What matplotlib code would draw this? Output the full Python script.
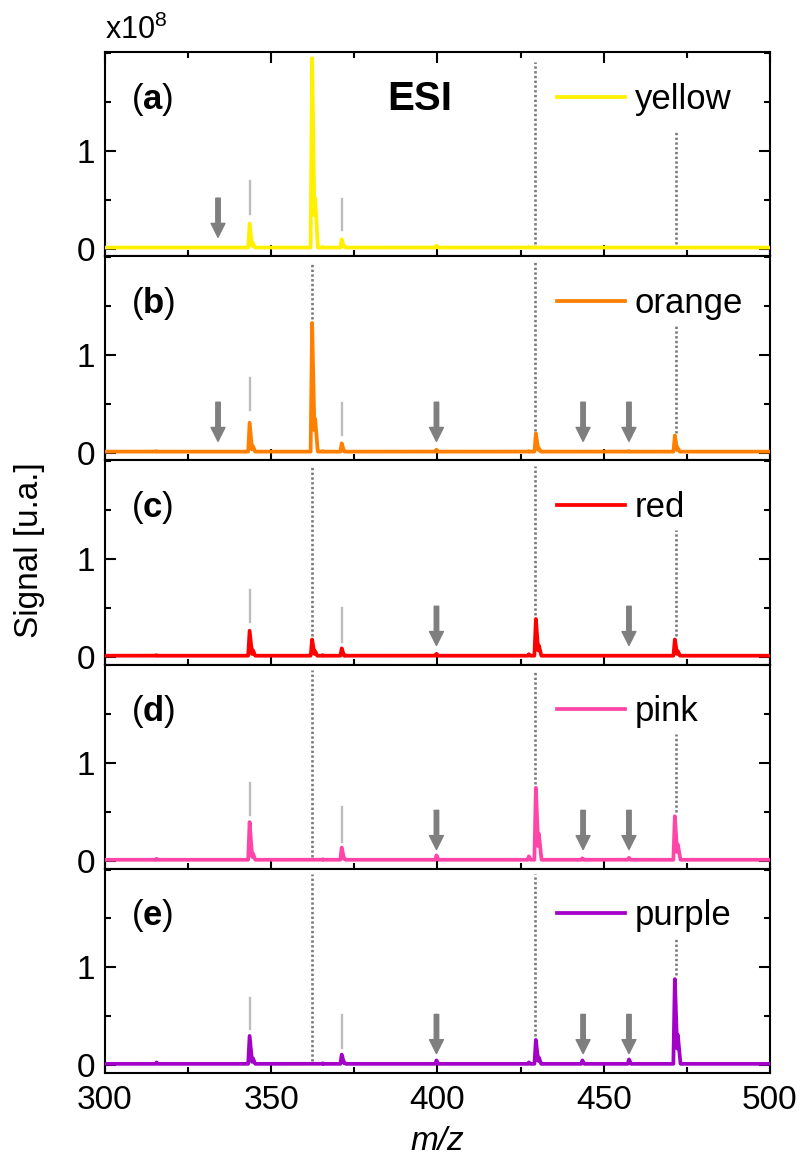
import numpy as np
import matplotlib
matplotlib.use("Agg")
from matplotlib import pyplot as plt
from matplotlib.ticker import MultipleLocator

plt.rcParams["font.family"] = ["Liberation Sans", "DejaVu Sans"]
plt.rcParams["mathtext.fontset"] = "custom"
plt.rcParams["mathtext.rm"] = "Liberation Sans"
plt.rcParams["mathtext.bf"] = "Liberation Sans:bold"
plt.rcParams["mathtext.it"] = "Liberation Sans:italic"

# --- data ---
panel_labels = ["a", "b", "c", "d", "e"]
sample_names = ["yellow", "orange", "red", "pink", "purple"]
sample_colors = ["#FFF000", "#FF8000", "#FF0000", "#FF45A8", "#A300C8"]

# peak positions (m/z) shared by all spectra
peak_mz = [315.5, 324.0, 334.0, 343.5, 344.5, 362.3, 363.2, 365.5, 371.2, 372.0,
           399.7, 402.0, 415.0, 427.5, 429.6, 430.5, 443.6, 457.6, 471.4, 472.3]

# peak heights per sample (x1e8)
peaks_yellow = [0.015, 0.005, 0.01, 0.26, 0.06, 1.95, 0.52, 0.02, 0.10, 0.03,
                0.035, 0.01, 0.005, 0.02, 0.02, 0.0, 0.0, 0.005, 0.005, 0.0]
peaks_orange = [0.02, 0.005, 0.015, 0.31, 0.07, 1.33, 0.35, 0.02, 0.10, 0.02,
                0.035, 0.015, 0.005, 0.02, 0.20, 0.05, 0.015, 0.02, 0.18, 0.05]
peaks_red = [0.02, 0.01, 0.01, 0.27, 0.07, 0.18, 0.06, 0.02, 0.09, 0.02,
             0.035, 0.0, 0.01, 0.03, 0.39, 0.12, 0.01, 0.015, 0.18, 0.06]
peaks_pink = [0.025, 0.01, 0.0, 0.40, 0.08, 0.0, 0.0, 0.02, 0.14, 0.03,
              0.06, 0.0, 0.01, 0.05, 0.75, 0.28, 0.03, 0.035, 0.46, 0.17]
peaks_purple = [0.03, 0.01, 0.0, 0.30, 0.07, 0.0, 0.0, 0.02, 0.11, 0.03,
                0.05, 0.0, 0.01, 0.03, 0.26, 0.08, 0.05, 0.06, 0.88, 0.31]
all_peaks = [peaks_yellow, peaks_orange, peaks_red, peaks_pink, peaks_purple]
baseline = 0.015

# light grey markers above 343.5 and 371.2: (mz, y_low, y_high)
grey_marks = [
    [(343.5, 0.36, 0.69), (371.2, 0.19, 0.51)],
    [(343.5, 0.44, 0.77), (371.2, 0.19, 0.51)],
    [(343.5, 0.36, 0.69), (371.2, 0.16, 0.50)],
    [(343.5, 0.47, 0.80), (371.2, 0.20, 0.55)],
    [(343.5, 0.37, 0.69), (371.2, 0.18, 0.51)],
]
# down arrows
arrow_mz = [
    [334.0],
    [334.0, 399.7, 443.8, 457.6],
    [399.7, 457.6],
    [399.7, 443.8, 457.6],
    [399.7, 443.8, 457.6],
]
# dotted guide lines: (mz, y_low, y_high)
dotted_marks = [
    [(429.4, 0.05, 1.91), (471.9, 0.05, 1.22)],
    [(362.4, 1.37, 1.95), (429.4, 0.23, 1.95), (471.9, 0.21, 1.30)],
    [(362.4, 0.22, 1.95), (429.4, 0.43, 1.95), (471.9, 0.22, 1.30)],
    [(362.4, 0.04, 1.95), (429.4, 0.79, 1.95), (471.9, 0.50, 1.30)],
    [(362.4, 0.04, 1.95), (429.4, 0.30, 1.95), (471.9, 0.92, 1.30)],
]


def spectrum(heights, mz_grid):
    # narrow, slightly tailing peaks on a flat baseline
    y = np.full_like(mz_grid, baseline)
    for c, h in zip(peak_mz, heights):
        if h <= 0:
            continue
        w = np.where(mz_grid < c, 0.45, 0.85)
        tri = h * (1 - np.abs(mz_grid - c) / w)
        y = np.maximum(y, tri)
    return y


mz = np.arange(300, 500.001, 0.05)

fig = plt.figure(figsize=(8.02, 11.57), dpi=100)
axes = fig.subplots(5, 1, sharex=True)
fig.subplots_adjust(left=0.1309, right=0.960, top=0.9548, bottom=0.0729, hspace=0)

for i, ax in enumerate(axes):
    ax.plot(mz, spectrum(all_peaks[i], mz), color=sample_colors[i], lw=2.7,
            label=sample_names[i], zorder=3)

    for x, y0, y1 in grey_marks[i]:
        ax.plot([x, x], [y0, y1], color="#BDBDBD", lw=1.7, zorder=2)
    for x, y0, y1 in dotted_marks[i]:
        ax.plot([x, x], [y0, y1], color="#7A7A7A", lw=1.9, ls=(0, (0.9, 0.9)), zorder=2)
    for x in arrow_mz[i]:
        ax.annotate("", xy=(x, 0.12), xytext=(x, 0.52),
                    arrowprops=dict(arrowstyle="simple,head_length=1.0,head_width=1.0,tail_width=0.32",
                                    color="#7F7F7F", shrinkA=0, shrinkB=0, mutation_scale=10))

    ax.set_xlim(300, 500)
    ax.set_ylim(-0.075, 2.01)
    ax.xaxis.set_major_locator(MultipleLocator(50))
    ax.xaxis.set_minor_locator(MultipleLocator(25))
    ax.set_yticks([0, 1])
    ax.yaxis.set_minor_locator(MultipleLocator(0.5))
    ax.tick_params(which="both", direction="in", width=1.5, labelsize=24,
                   right=True, top=(i == 0))
    ax.tick_params(which="major", length=8)
    ax.tick_params(which="minor", length=4.5)
    ax.tick_params(axis="y", pad=7)
    ax.tick_params(axis="x", pad=9)
    for sp in ax.spines.values():
        sp.set_linewidth(1.5)

    ax.text(0.039, 0.77, "(" + r"$\mathbf{" + panel_labels[i] + "}$" + ")",
            transform=ax.transAxes, fontsize=25, va="center", ha="left")
    ax.legend(loc="center left", bbox_to_anchor=(0.68, 0.77), frameon=False,
              fontsize=25, handlelength=1.95, handletextpad=0.28,
              borderpad=0, borderaxespad=0)

axes[0].text(0.473, 0.77, "ESI", transform=axes[0].transAxes, fontsize=29,
             fontweight="bold", va="center", ha="center")

fig.text(105 / 802, 1 - 30 / 1157, r"x10$^{8}$", fontsize=22, va="center", ha="left")
fig.text(30 / 802, 1 - 550 / 1157, "Signal [u.a.]", fontsize=24, rotation=90,
         va="center", ha="center")
fig.text(437 / 802, 1 - 1141 / 1157, "m/z", fontsize=24, style="italic",
         va="center", ha="center")

fig.savefig("out.png", dpi=100)
